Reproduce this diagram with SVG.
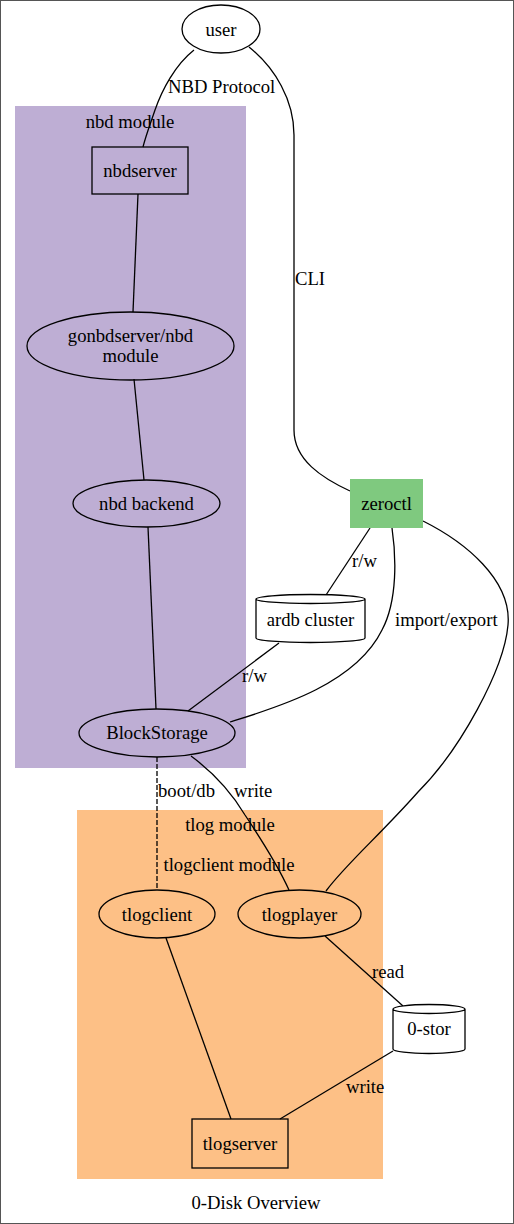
<svg xmlns="http://www.w3.org/2000/svg" width="514" height="1224" viewBox="0 0 514 1224" font-family="'Liberation Serif', 'Times New Roman', serif" font-size="18.67">
<style>
.c{text-anchor:middle}
.n{fill:none;stroke:#000;stroke-width:1.3}
.w{fill:#fff;stroke:#000;stroke-width:1.3}
.e{fill:none;stroke:#000;stroke-width:1.3}
</style>
<rect x="0.5" y="0.5" width="513" height="1223" fill="#fff" stroke="#555"/>
<g id="cluster_nbd">
<rect x="15" y="106" width="231" height="662" fill="#beaed4"/>
<text class="c" x="130" y="128">nbd module</text>
</g>
<g id="cluster_tlog">
<rect x="77" y="810" width="306" height="369" fill="#fdc086"/>
<text class="c" x="230" y="831">tlog module</text>
<text class="c" x="229" y="871">tlogclient module</text>
</g>
<g id="edges">
<path class="e" d="M194,50 C175,65 162,90 155,110 C150,125 146,135 143,147"/>
<text x="168" y="93">NBD Protocol</text>
<path class="e" d="M249,47 C275,68 294,100 294,135 V430 C294,460 322,478 350,491"/>
<text x="295" y="285">CLI</text>
<path class="e" d="M138,194 L133,312"/>
<path class="e" d="M134,379 L144,480"/>
<path class="e" d="M148,527 L156,709"/>
<path class="e" d="M370,528 L326,595"/>
<text x="352" y="567">r/w</text>
<path class="e" d="M279,643 L188,711"/>
<text x="242" y="682">r/w</text>
<path class="e" d="M392,528 C396,555 398,600 382,630 C355,685 275,708 230,722"/>
<text x="395" y="626">import/export</text>
<path class="e" d="M423,521 C465,542 512,580 508,625 C504,670 460,750 418,792 C380,835 345,865 326,891"/>
<path class="e" d="M157,757 V890" stroke-dasharray="5,2"/>
<text x="158" y="797">boot/db</text>
<path class="e" d="M191,756 C210,770 230,790 245,815 C265,845 280,870 289,890"/>
<text x="234" y="797">write</text>
<path class="e" d="M325,936 L403,1006"/>
<text x="372" y="978">read</text>
<path class="e" d="M393,1051 L280,1119"/>
<text x="346" y="1093">write</text>
<path class="e" d="M166,938 L231,1119"/>
</g>
<g id="user">
<ellipse class="w" cx="221" cy="29" rx="39" ry="24"/>
<text class="c" x="221" y="36">user</text>
</g>
<g id="nbdserver">
<rect class="n" x="92" y="147" width="96" height="47"/>
<text class="c" x="140" y="177">nbdserver</text>
</g>
<g id="gonbdserver">
<ellipse class="n" cx="130.5" cy="346" rx="103.5" ry="34"/>
<text class="c" x="130.5" y="341.5">gonbdserver/nbd</text>
<text class="c" x="130.5" y="362">module</text>
</g>
<g id="nbdbackend">
<ellipse class="n" cx="146.5" cy="503.5" rx="73.5" ry="23.5"/>
<text class="c" x="146.5" y="510">nbd backend</text>
</g>
<g id="blockstorage">
<ellipse class="n" cx="157" cy="733" rx="78" ry="24"/>
<text class="c" x="157" y="739">BlockStorage</text>
</g>
<g id="zeroctl">
<rect x="350" y="479" width="73" height="49" fill="#7fc97f"/>
<text class="c" x="386.5" y="510">zeroctl</text>
</g>
<g id="ardb">
<path class="w" d="M365,599 C365,601.5 340.5,603.5 310.5,603.5 C280.5,603.5 256,601.5 256,599 C256,596.5 280.5,594.5 310.5,594.5 C340.5,594.5 365,596.5 365,599 V638 C365,640.5 340.5,642.5 310.5,642.5 C280.5,642.5 256,640.5 256,638 V599"/>
<text class="c" x="310.5" y="626">ardb cluster</text>
</g>
<g id="tlogclient">
<ellipse class="n" cx="157" cy="914" rx="58" ry="24"/>
<text class="c" x="157" y="921">tlogclient</text>
</g>
<g id="tlogplayer">
<ellipse class="n" cx="299.5" cy="914" rx="61.5" ry="24"/>
<text class="c" x="299.5" y="921">tlogplayer</text>
</g>
<g id="zerostor">
<path class="w" d="M465,1009 C465,1011.5 448.9,1013.5 429,1013.5 C409.1,1013.5 393,1011.5 393,1009 C393,1006.5 409.1,1004.5 429,1004.5 C448.9,1004.5 465,1006.5 465,1009 V1049 C465,1051.5 448.9,1053.5 429,1053.5 C409.1,1053.5 393,1051.5 393,1049 V1009"/>
<text class="c" x="429" y="1035">0-stor</text>
</g>
<g id="tlogserver">
<rect class="n" x="192" y="1119" width="96" height="49"/>
<text class="c" x="240" y="1150">tlogserver</text>
</g>
<text class="c" x="256" y="1209">0-Disk Overview</text>
</svg>
